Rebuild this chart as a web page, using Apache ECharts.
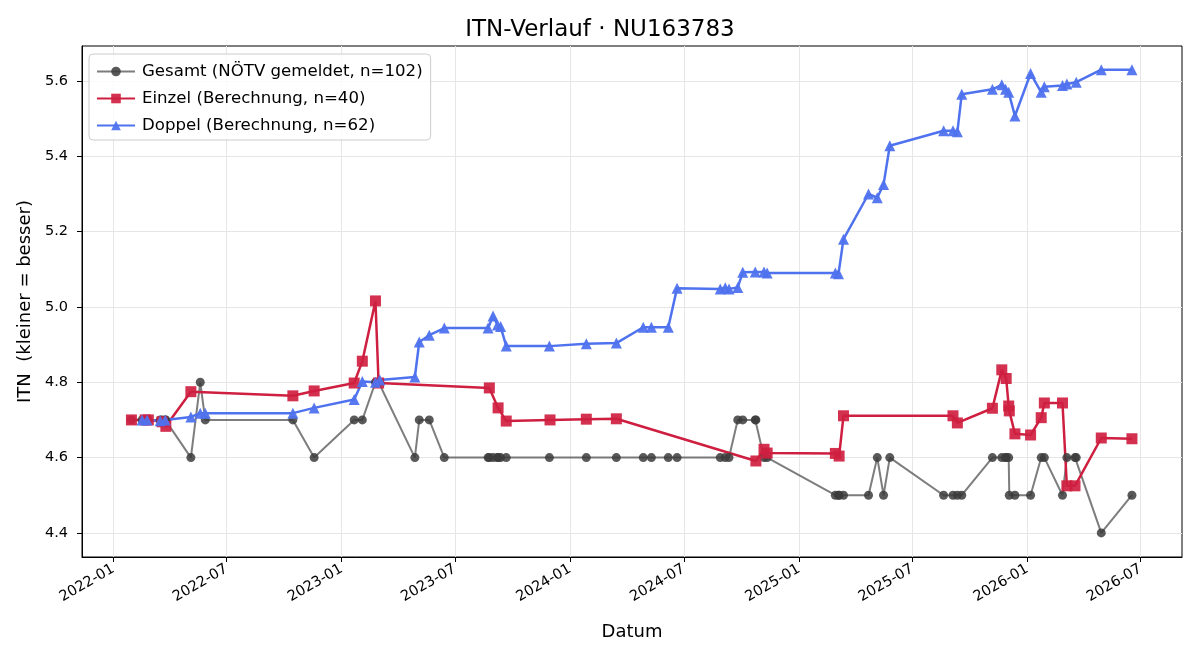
<!DOCTYPE html>
<html>
<head>
<meta charset="utf-8">
<script src="https://cdn.jsdelivr.net/npm/echarts@6/dist/echarts.min.js"></script>
<style>
  html, body { margin: 0; padding: 0; background: #fff; }
  #main { width: 1200px; height: 660px; }
</style>
</head>
<body>
<div id="main"></div>
<script>
// Gesamt (reported values)
var gesamtDates = ['2022-01-30','2022-02-16','2022-02-21','2022-02-24','2022-02-26','2022-03-17','2022-03-20','2022-03-25','2022-03-26',
    '2022-05-05','2022-05-20','2022-05-28','2022-10-15','2022-11-18','2023-01-21','2023-02-03','2023-02-24','2023-03-01','2023-03-03',
    '2023-04-28','2023-05-05','2023-05-21','2023-06-14','2023-08-23','2023-08-25','2023-08-31','2023-09-07','2023-09-08','2023-09-12',
    '2023-09-21','2023-11-29','2024-01-27','2024-03-15','2024-04-27','2024-05-10','2024-06-06','2024-06-20','2024-08-28','2024-09-05',
    '2024-09-11','2024-09-25','2024-10-03','2024-10-23','2024-10-24','2024-11-06','2024-11-11','2025-02-28','2025-03-05','2025-03-06',
    '2025-03-13','2025-04-22','2025-05-06','2025-05-16','2025-05-26','2025-08-20','2025-09-04','2025-09-11','2025-09-18','2025-11-06',
    '2025-11-21','2025-11-27','2025-11-28','2025-12-02','2025-12-03','2025-12-12','2026-01-06','2026-01-23','2026-01-28','2026-02-26',
    '2026-03-05','2026-03-18','2026-03-20','2026-04-29','2026-06-17'];
var gesamtValues = [4.7,4.7,4.7,4.7,4.7,4.7,4.7,4.7,4.7,
    4.6,4.8,4.7,4.7,4.6,4.7,4.7,4.8,4.8,4.8,
    4.6,4.7,4.7,4.6,4.6,4.6,4.6,4.6,4.6,4.6,
    4.6,4.6,4.6,4.6,4.6,4.6,4.6,4.6,4.6,4.6,
    4.6,4.7,4.7,4.7,4.7,4.6,4.6,4.5,4.5,4.5,
    4.5,4.5,4.6,4.5,4.6,4.5,4.5,4.5,4.5,4.6,
    4.6,4.6,4.6,4.6,4.5,4.5,4.5,4.6,4.6,4.5,
    4.6,4.6,4.6,4.4,4.5];

// Einzel (computed)
var einzelDates = ['2022-01-30','2022-02-21','2022-02-26','2022-03-20','2022-03-26','2022-05-05','2022-10-15','2022-11-18','2023-01-21','2023-02-03',
    '2023-02-24','2023-03-01','2023-08-25','2023-09-08','2023-09-21','2023-11-30','2024-01-27','2024-03-15','2024-10-24','2024-11-06',
    '2024-11-11','2025-02-28','2025-03-06','2025-03-13','2025-09-04','2025-09-11','2025-11-06','2025-11-21','2025-11-28','2025-12-02',
    '2025-12-03','2025-12-12','2026-01-06','2026-01-23','2026-01-28','2026-02-26','2026-03-05','2026-03-18','2026-04-29','2026-06-17'];
var einzelValues = [4.700,4.700,4.700,4.695,4.683,4.775,4.764,4.777,4.798,4.856,
    5.016,4.798,4.785,4.732,4.697,4.700,4.702,4.703,4.591,4.622,
    4.612,4.611,4.604,4.711,4.711,4.692,4.731,4.833,4.810,4.737,
    4.724,4.663,4.660,4.706,4.745,4.745,4.525,4.525,4.652,4.650];

// Doppel (computed)
var doppelDates = ['2022-02-16','2022-02-24','2022-03-17','2022-03-25','2022-05-05','2022-05-20','2022-05-28','2022-10-15','2022-11-18','2023-01-21',
    '2023-02-03','2023-02-24','2023-03-03','2023-04-28','2023-05-05','2023-05-21','2023-06-14','2023-08-23','2023-08-31','2023-09-07',
    '2023-09-12','2023-09-21','2023-11-29','2024-01-27','2024-03-15','2024-04-27','2024-05-10','2024-06-06','2024-06-20','2024-08-28',
    '2024-09-05','2024-09-11','2024-09-25','2024-10-03','2024-10-23','2024-11-06','2024-11-11','2025-02-28','2025-03-05','2025-03-13',
    '2025-04-22','2025-05-06','2025-05-16','2025-05-26','2025-08-20','2025-09-04','2025-09-11','2025-09-18','2025-11-06','2025-11-21',
    '2025-11-27','2025-12-02','2025-12-12','2026-01-06','2026-01-23','2026-01-28','2026-02-26','2026-03-05','2026-03-20','2026-04-29',
    '2026-06-17'];
var doppelValues = [4.700,4.700,4.698,4.700,4.708,4.718,4.718,4.718,4.732,4.754,
    4.802,4.800,4.806,4.814,4.907,4.925,4.944,4.944,4.976,4.952,
    4.948,4.896,4.896,4.902,4.904,4.946,4.946,4.946,5.050,5.048,
    5.051,5.048,5.052,5.092,5.093,5.093,5.090,5.090,5.088,5.180,
    5.300,5.290,5.325,5.428,5.468,5.468,5.465,5.565,5.578,5.590,
    5.578,5.570,5.507,5.620,5.570,5.585,5.588,5.592,5.597,5.630,
    5.630];

var xTickDates = ['2022-01-01','2022-07-01','2023-01-01','2023-07-01','2024-01-01','2024-07-01','2025-01-01','2025-07-01','2026-01-01','2026-07-01'];
var yTicks = [4.4, 4.6, 4.8, 5.0, 5.2, 5.4, 5.6];

function ts(d) {
    var p = d.split('-');
    return Date.UTC(+p[0], +p[1] - 1, +p[2]);
}
function pairs(dates, values) {
    return dates.map(function (d, i) { return [ts(d), values[i]]; });
}
function monthLabel(v) {
    var d = new Date(v);
    var m = d.getUTCMonth() + 1;
    return d.getUTCFullYear() + '-' + (m < 10 ? '0' + m : m);
}

var font = 'DejaVu Sans';
var myChart = echarts.init(document.getElementById('main'));
var option = {
    animation: false,
    textStyle: { fontFamily: font },
    title: {
        text: 'ITN-Verlauf · NU163783',
        left: 'center',
        top: 14,
        textStyle: { fontFamily: font, fontSize: 23, fontWeight: 'normal', color: '#000' }
    },
    legend: {
        orient: 'vertical',
        left: 89,
        top: 54,
        padding: [8, 8, 5, 7],
        itemWidth: 38,
        itemHeight: 12,
        itemGap: 8,
        backgroundColor: 'rgba(255,255,255,0.8)',
        borderColor: '#cccccc',
        borderWidth: 1,
        borderRadius: 4,
        textStyle: { fontFamily: font, fontSize: 16.6, color: '#000', lineHeight: 19, padding: [0, 0, 0, 2] },
        data: ['Gesamt (NÖTV gemeldet, n=102)', 'Einzel (Berechnung, n=40)', 'Doppel (Berechnung, n=62)']
    },
    grid: {
        left: 82,
        top: 46,
        width: 1100,
        height: 511,
        show: true,
        borderColor: '#000',
        borderWidth: 1,
        backgroundColor: 'transparent'
    },
    xAxis: {
        type: 'value',
        min: ts('2021-11-12'),
        max: ts('2026-09-05'),
        name: 'Datum',
        nameLocation: 'middle',
        nameGap: 66,
        nameTextStyle: { fontFamily: font, fontSize: 18, color: '#000' },
        axisLine: { show: true, onZero: false, lineStyle: { color: '#000', width: 1 } },
        axisTick: { show: true, length: 5, lineStyle: { color: '#000' }, customValues: xTickDates.map(ts) },
        axisLabel: {
            customValues: xTickDates.map(ts),
            rotate: 30,
            fontFamily: font,
            fontSize: 14.5,
            color: '#000',
            margin: 11,
            formatter: monthLabel
        },
        splitLine: { show: true, lineStyle: { color: '#e6e6e6', width: 1 } }
    },
    yAxis: {
        type: 'value',
        min: 4.336,
        max: 5.693,
        name: 'ITN  (kleiner = besser)',
        nameLocation: 'middle',
        nameGap: 47,
        nameTextStyle: { fontFamily: font, fontSize: 18, color: '#000' },
        axisLine: { show: true, onZero: false, lineStyle: { color: '#000', width: 1 } },
        axisTick: { show: true, length: 5, lineStyle: { color: '#000' }, customValues: yTicks },
        axisLabel: {
            customValues: yTicks,
            fontFamily: font,
            fontSize: 14.5,
            color: '#000',
            margin: 14,
            formatter: function (v) { return (+v).toFixed(1); }
        },
        splitLine: { show: true, lineStyle: { color: '#e6e6e6', width: 1 } }
    },
    series: [
        {
            name: 'Gesamt (NÖTV gemeldet, n=102)',
            type: 'line',
            data: pairs(gesamtDates, gesamtValues),
            symbol: 'circle',
            symbolSize: 9,
            lineStyle: { color: 'rgba(70,70,70,0.7)', width: 2 },
            itemStyle: { color: 'rgba(60,60,60,0.85)' }
        },
        {
            name: 'Einzel (Berechnung, n=40)',
            type: 'line',
            data: pairs(einzelDates, einzelValues),
            symbol: 'rect',
            symbolSize: 11,
            lineStyle: { color: '#cf1f40', width: 2.5 },
            itemStyle: { color: 'rgba(207,31,64,0.92)' }
        },
        {
            name: 'Doppel (Berechnung, n=62)',
            type: 'line',
            data: pairs(doppelDates, doppelValues),
            symbol: 'triangle',
            symbolSize: 11,
            lineStyle: { color: '#4f72ee', width: 2.5 },
            itemStyle: { color: 'rgba(79,114,238,0.95)' }
        }
    ]
};
myChart.setOption(option);
</script>
</body>
</html>
